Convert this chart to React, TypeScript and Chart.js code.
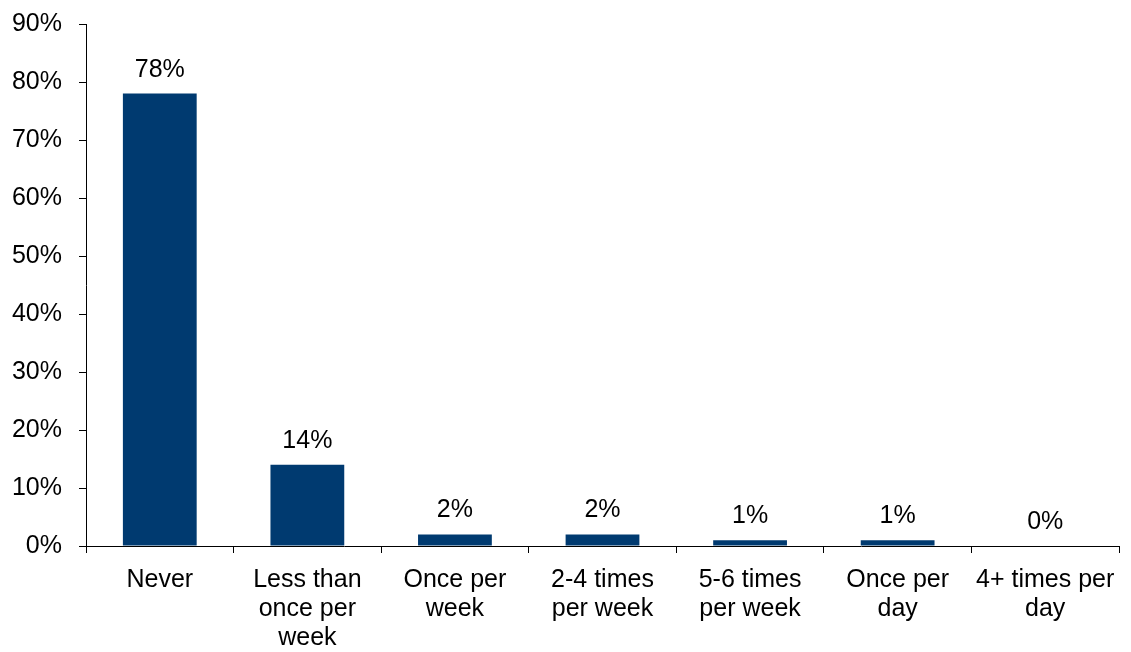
import React, { useEffect, useRef } from "react";
import { Chart, registerables } from "chart.js";

Chart.register(...registerables);

const categories: string[][] = [
  ["Never"],
  ["Less than", "once per", "week"],
  ["Once per", "week"],
  ["2-4 times", "per week"],
  ["5-6 times", "per week"],
  ["Once per", "day"],
  ["4+ times per", "day"],
];
const values: number[] = [78, 14, 2, 2, 1, 1, 0];
const yTicks: number[] = [0, 10, 20, 30, 40, 50, 60, 70, 80, 90];

const FONT = "'Liberation Sans', Arial, sans-serif";
const BAR_COLOR = "#003A70";

const dataLabels = {
  id: "dataLabels",
  afterDatasetsDraw(chart: any) {
    const ctx = chart.ctx;
    const meta = chart.getDatasetMeta(0);
    ctx.save();
    ctx.font = `25px ${FONT}`;
    ctx.fillStyle = "#000";
    ctx.textAlign = "center";
    ctx.textBaseline = "alphabetic";
    meta.data.forEach((bar: any, i: number) => {
      ctx.fillText(`${values[i]}%`, bar.x, bar.y - 17);
    });
    ctx.restore();
  },
};

export default function App() {
  const ref = useRef<HTMLCanvasElement | null>(null);
  useEffect(() => {
    document.body.style.margin = "0";
    const c = ref.current;
    if (!c) return;
    const chart = new Chart(c, {
      type: "bar",
      data: {
        labels: categories,
        datasets: [
          {
            data: values,
            backgroundColor: BAR_COLOR,
            borderWidth: 0,
            barPercentage: 0.5,
            categoryPercentage: 1,
          },
        ],
      },
      options: {
        animation: false,
        responsive: false,
        maintainAspectRatio: false,
        layout: { padding: { left: 12, right: 12, top: 24, bottom: 0 } },
        plugins: { legend: { display: false }, tooltip: { enabled: false } },
        scales: {
          x: {
            offset: true,
            afterFit: (axis: any) => {
              axis.height = 106;
              axis.paddingLeft = 0;
              axis.paddingRight = 0;
            },
            grid: {
              offset: true,
              drawOnChartArea: false,
              drawTicks: true,
              tickLength: 7,
              color: "#000",
            },
            border: { display: true, color: "#000", width: 1 },
            ticks: {
              color: "#000",
              font: { family: FONT, size: 25, lineHeight: 1.16 },
              padding: 13,
              maxRotation: 0,
              autoSkip: false,
            },
          },
          y: {
            min: 0,
            max: 90,
            afterBuildTicks: (axis: any) => {
              axis.ticks = yTicks.map((v) => ({ value: v }));
            },
            afterFit: (axis: any) => {
              axis.width = 74;
              axis.paddingTop = 0;
              axis.paddingBottom = 0;
            },
            grid: {
              drawOnChartArea: false,
              drawTicks: true,
              tickLength: 7,
              color: "#000",
            },
            border: { display: true, color: "#000", width: 1 },
            ticks: {
              color: "#000",
              font: { family: FONT, size: 25 },
              padding: 17,
              callback: (v: any) => `${v}%`,
            },
          },
        },
      },
      plugins: [dataLabels],
    });
    return () => chart.destroy();
  }, []);
  return (
    <div style={{ width: 1131, height: 652 }}>
      <canvas ref={ref} width={1131} height={652} style={{ display: "block" }} />
    </div>
  );
}
